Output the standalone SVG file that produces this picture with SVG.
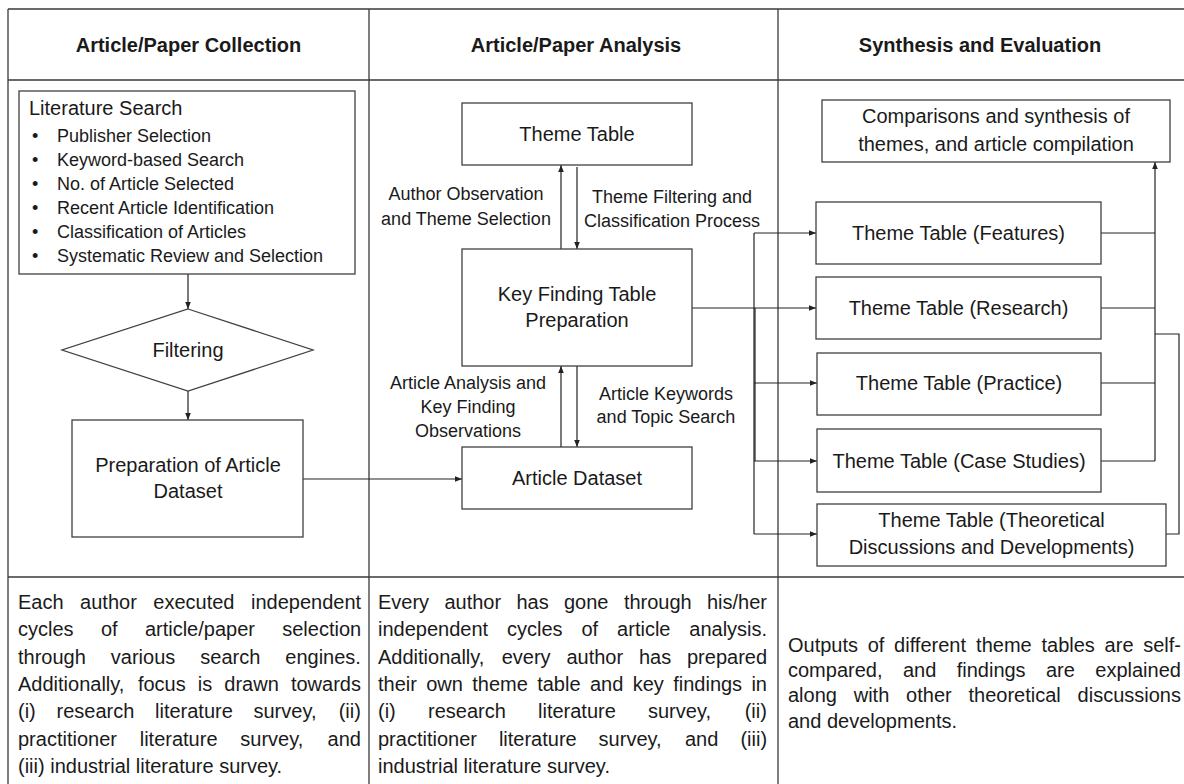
<svg xmlns="http://www.w3.org/2000/svg" width="1184" height="784" viewBox="0 0 1184 784">
<style>
text{font-family:"Liberation Sans",Arial,sans-serif;fill:#1a1a1a}
.frame{stroke:#3a3a3a;stroke-width:1.3;fill:none}
.box{fill:#fff;stroke:#404040;stroke-width:1.3}
.conn{fill:none;stroke:#222;stroke-width:1.2}
.hdr{font-size:20px;font-weight:bold;text-anchor:middle}
.node{font-size:20px;text-anchor:middle}
.lbl{font-size:18px;text-anchor:middle}
.list{font-size:18px}
.body{font-size:20px}
</style>
<defs>
<marker id="arr" viewBox="0 0 10 10" refX="10" refY="5" markerWidth="7" markerHeight="7" markerUnits="userSpaceOnUse" orient="auto"><path d="M0,1 L10,5 L0,9 z" fill="#222"/></marker>
</defs>
<rect width="1184" height="784" fill="#fff"/>
<g id="table">
<path class="frame" d="M8,9 H1184 M8,80 H1184 M8,577 H1184 M8,9 V784 M369,9 V784 M778,9 V784"/>
<text class="hdr" x="188.5" y="52">Article/Paper Collection</text>
<text class="hdr" x="576" y="52">Article/Paper Analysis</text>
<text class="hdr" x="980" y="52">Synthesis and Evaluation</text>
</g>
<g id="connectors">
<path class="conn" marker-end="url(#arr)" d="M188,274 V309"/>
<path class="conn" marker-end="url(#arr)" d="M188,391 V420"/>
<path class="conn" marker-end="url(#arr)" d="M303,479 H462"/>
<path class="conn" marker-end="url(#arr)" d="M561,447 V366"/>
<path class="conn" marker-end="url(#arr)" d="M577,366 V447"/>
<path class="conn" marker-end="url(#arr)" d="M561,249 V165"/>
<path class="conn" marker-end="url(#arr)" d="M577,167 V249"/>
<path class="conn" marker-end="url(#arr)" d="M692,308 H816"/>
<path class="conn" d="M754,233 V534"/>
<path class="conn" stroke-width="1.8" d="M755,308 V461"/>
<path class="conn" marker-end="url(#arr)" d="M754,233 H816"/>
<path class="conn" marker-end="url(#arr)" d="M754,383 H817"/>
<path class="conn" marker-end="url(#arr)" d="M754,461 H817"/>
<path class="conn" marker-end="url(#arr)" d="M754,534 H817"/>
<path class="conn" d="M1101,233 H1155 M1101,308 H1155 M1101,383 H1155 M1101,461 H1155"/>
<path class="conn" marker-end="url(#arr)" d="M1155,461 V162"/>
<path class="conn" d="M1166,534 H1179 V334 H1155"/>
</g>
<g id="literature-search">
<rect class="box" x="19" y="91" width="336" height="183"/>
<text class="body" x="29" y="115">Literature Search</text>
<text class="list">
<tspan x="32" y="142">•</tspan><tspan x="57" y="142">Publisher Selection</tspan>
<tspan x="32" y="166">•</tspan><tspan x="57" y="166">Keyword-based Search</tspan>
<tspan x="32" y="190">•</tspan><tspan x="57" y="190">No. of Article Selected</tspan>
<tspan x="32" y="214">•</tspan><tspan x="57" y="214">Recent Article Identification</tspan>
<tspan x="32" y="238">•</tspan><tspan x="57" y="238">Classification of Articles</tspan>
<tspan x="32" y="262">•</tspan><tspan x="57" y="262">Systematic Review and Selection</tspan>
</text>
</g>
<g id="filtering">
<polygon class="box" points="188,309 313,350 188,391 62,350"/>
<text class="node" x="188" y="357">Filtering</text>
</g>
<g id="preparation">
<rect class="box" x="72" y="420" width="231" height="117"/>
<text class="node" x="188" y="472">Preparation of Article</text>
<text class="node" x="188" y="498">Dataset</text>
</g>
<g id="theme-table">
<rect class="box" x="462" y="103" width="230" height="62"/>
<text class="node" x="577" y="141">Theme Table</text>
</g>
<g id="key-finding">
<rect class="box" x="462" y="249" width="230" height="117"/>
<text class="node" x="577" y="301">Key Finding Table</text>
<text class="node" x="577" y="327">Preparation</text>
</g>
<g id="article-dataset">
<rect class="box" x="462" y="447" width="230" height="62"/>
<text class="node" x="577" y="485">Article Dataset</text>
</g>
<g id="edge-labels">
<text class="lbl" x="466" y="200">Author Observation</text>
<text class="lbl" x="466" y="225">and Theme Selection</text>
<text class="lbl" x="672" y="203">Theme Filtering and</text>
<text class="lbl" x="672" y="227">Classification Process</text>
<text class="lbl" x="468" y="389">Article Analysis and</text>
<text class="lbl" x="468" y="413">Key Finding</text>
<text class="lbl" x="468" y="437">Observations</text>
<text class="lbl" x="666" y="400">Article Keywords</text>
<text class="lbl" x="666" y="423">and Topic Search</text>
</g>
<g id="comparisons">
<rect class="box" x="822" y="100" width="348" height="62"/>
<text class="node" x="996" y="123">Comparisons and synthesis of</text>
<text class="node" x="996" y="151">themes, and article compilation</text>
</g>
<g id="tt-features">
<rect class="box" x="816" y="202" width="285" height="62"/>
<text class="node" x="958.5" y="240">Theme Table (Features)</text>
</g>
<g id="tt-research">
<rect class="box" x="816" y="277" width="285" height="62"/>
<text class="node" x="958.5" y="315">Theme Table (Research)</text>
</g>
<g id="tt-practice">
<rect class="box" x="817" y="353" width="284" height="62"/>
<text class="node" x="959" y="390">Theme Table (Practice)</text>
</g>
<g id="tt-case">
<rect class="box" x="817" y="429" width="284" height="63"/>
<text class="node" x="959" y="468">Theme Table (Case Studies)</text>
</g>
<g id="tt-theoretical">
<rect class="box" x="817" y="504" width="349" height="62"/>
<text class="node" x="991.5" y="527">Theme Table (Theoretical</text>
<text class="node" x="991.5" y="554">Discussions and Developments)</text>
</g>
<g id="notes">
<text class="body">
<tspan x="18" y="609">Each</tspan><tspan x="80.1" y="609">author</tspan><tspan x="153.3" y="609">executed</tspan><tspan x="251" y="609">independent</tspan>
<tspan x="18" y="636">cycles</tspan><tspan x="100.9" y="636">of</tspan><tspan x="144.9" y="636">article/paper</tspan><tspan x="282.2" y="636">selection</tspan>
<tspan x="18" y="664">through</tspan><tspan x="110.8" y="664">various</tspan><tspan x="200.3" y="664">search</tspan><tspan x="285.3" y="664">engines.</tspan>
<tspan x="18" y="691">Additionally,</tspan><tspan x="137.9" y="691">focus</tspan><tspan x="197.8" y="691">is</tspan><tspan x="224.3" y="691">drawn</tspan><tspan x="290.9" y="691">towards</tspan>
<tspan x="18" y="718">(i)</tspan><tspan x="56.5" y="718">research</tspan><tspan x="155" y="718">literature</tspan><tspan x="253.5" y="718">survey,</tspan><tspan x="338.7" y="718">(ii)</tspan>
<tspan x="18" y="746">practitioner</tspan><tspan x="139.7" y="746">literature</tspan><tspan x="240.3" y="746">survey,</tspan><tspan x="327.6" y="746">and</tspan>
<tspan x="18" y="773">(iii) industrial literature survey.</tspan>
</text>
<text class="body">
<tspan x="378" y="609">Every</tspan><tspan x="444.4" y="609">author</tspan><tspan x="516.5" y="609">has</tspan><tspan x="564" y="609">gone</tspan><tspan x="623.9" y="609">through</tspan><tspan x="707" y="609">his/her</tspan>
<tspan x="378" y="636">independent</tspan><tspan x="507" y="636">cycles</tspan><tspan x="581.5" y="636">of</tspan><tspan x="617.1" y="636">article</tspan><tspan x="689.3" y="636">analysis.</tspan>
<tspan x="378" y="664">Additionally,</tspan><tspan x="501.7" y="664">every</tspan><tspan x="566.4" y="664">author</tspan><tspan x="639" y="664">has</tspan><tspan x="687" y="664">prepared</tspan>
<tspan x="378" y="691">their</tspan><tspan x="426.2" y="691">own</tspan><tspan x="472.3" y="691">theme</tspan><tspan x="537.2" y="691">table</tspan><tspan x="590" y="691">and</tspan><tspan x="632.7" y="691">key</tspan><tspan x="673.2" y="691">findings</tspan><tspan x="751.4" y="691">in</tspan>
<tspan x="378" y="718">(i)</tspan><tspan x="428" y="718">research</tspan><tspan x="538" y="718">literature</tspan><tspan x="648" y="718">survey,</tspan><tspan x="744.7" y="718">(ii)</tspan>
<tspan x="378" y="746">practitioner</tspan><tspan x="498.9" y="746">literature</tspan><tspan x="598.6" y="746">survey,</tspan><tspan x="685" y="746">and</tspan><tspan x="740.4" y="746">(iii)</tspan>
<tspan x="378" y="773">industrial literature survey.</tspan>
</text>
<text class="body">
<tspan x="788" y="652">Outputs</tspan><tspan x="867.7" y="652">of</tspan><tspan x="894.1" y="652">different</tspan><tspan x="976.1" y="652">theme</tspan><tspan x="1041.5" y="652">tables</tspan><tspan x="1104.6" y="652">are</tspan><tspan x="1143.2" y="652">self-</tspan>
<tspan x="788" y="677">compared,</tspan><tspan x="902.9" y="677">and</tspan><tspan x="956.7" y="677">findings</tspan><tspan x="1046" y="677">are</tspan><tspan x="1095.3" y="677">explained</tspan>
<tspan x="788" y="702">along</tspan><tspan x="853.7" y="702">with</tspan><tspan x="906.1" y="702">other</tspan><tspan x="968.5" y="702">theoretical</tspan><tspan x="1077.6" y="702">discussions</tspan>
<tspan x="788" y="728">and developments.</tspan>
</text>
</g>
</svg>
